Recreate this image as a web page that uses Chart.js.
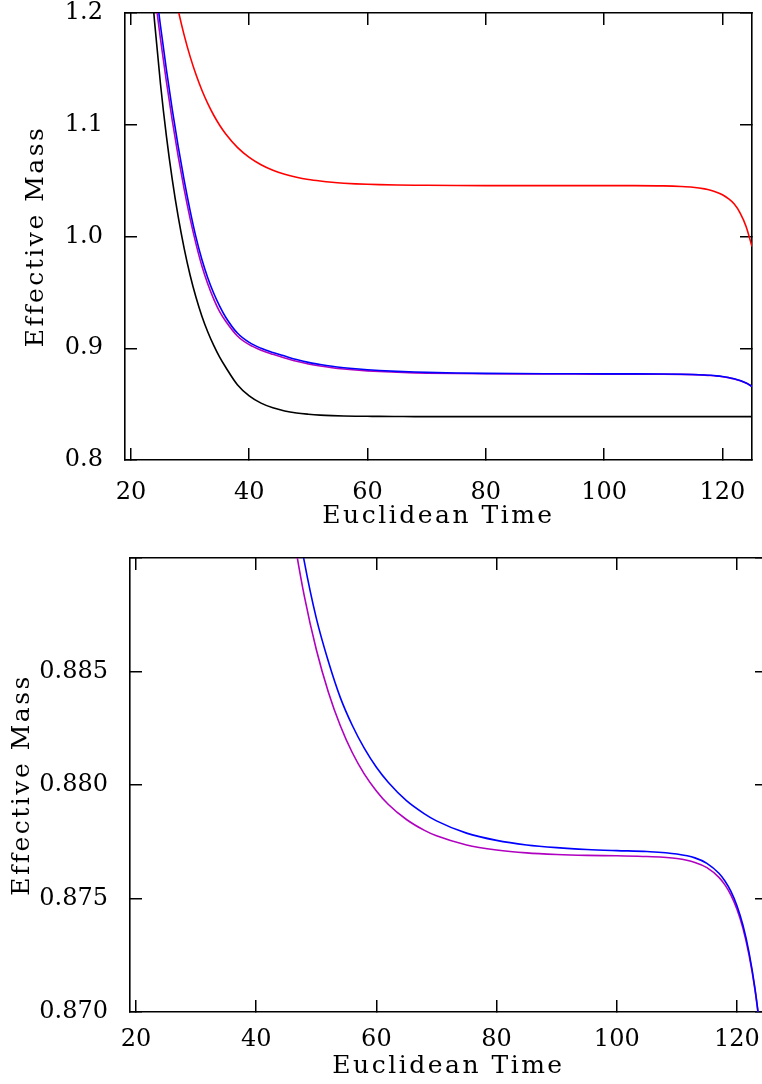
<!DOCTYPE html>
<html>
<head>
<meta charset="utf-8">
<script src="https://cdn.jsdelivr.net/npm/chart.js@4.4.1/dist/chart.umd.min.js"></script>
<style>
  html, body { margin: 0; padding: 0; background: #fff; overflow: hidden; width: 762px; height: 1084px; }
  canvas { position: absolute; left: 0; }
  #topChart { top: -20px; }
  #zoomChart { top: 520px; }
</style>
</head>
<body>
<canvas id="topChart" width="762" height="560"></canvas>
<canvas id="zoomChart" width="780" height="564"></canvas>
<script>
// euclidean time steps shared by every curve
const times = [23, 24, 25, 26, 27, 28, 29, 30, 31, 32, 33, 34, 35, 36, 38, 40, 42, 44, 46, 48,
  50, 52, 54, 56, 58, 60, 62, 65, 68, 70, 75, 80, 85, 90, 95, 100, 105, 110, 113, 115,
  117, 118, 119, 120, 121, 122, 123, 124, 125];

const blackMass = [1.257, 1.192, 1.1365, 1.0899, 1.0507, 1.0175, 0.9894, 0.9656, 0.9456, 0.9287, 0.9145, 0.9025, 0.892, 0.8832, 0.8674, 0.8574, 0.8509, 0.8467, 0.8439, 0.8421,
  0.841, 0.8402, 0.8397, 0.8394, 0.8392, 0.8391, 0.839, 0.8389, 0.8388, 0.8388, 0.8388, 0.8388, 0.8388, 0.8388, 0.8388, 0.8388, 0.8388, 0.8388, 0.8388, 0.8388,
  0.8388, 0.8388, 0.8388, 0.8388, 0.8388, 0.8388, 0.8388, 0.8388, 0.8388];

const redMass = [null, null, null, null, 1.228, 1.2024, 1.1802, 1.1612, 1.1449, 1.1309, 1.1189, 1.1085, 1.0996, 1.092, 1.0798, 1.0708, 1.0642, 1.0593, 1.0557, 1.053,
  1.051, 1.0496, 1.0485, 1.0477, 1.0471, 1.0467, 1.0464, 1.0461, 1.0459, 1.0458, 1.0456, 1.0455, 1.0455, 1.0455, 1.0455, 1.0455, 1.0455, 1.0453, 1.0448, 1.0441,
  1.0426, 1.0414, 1.0397, 1.0373, 1.0339, 1.029, 1.021, 1.009, 0.991];

const blueMass = [1.275, 1.2304, 1.1884, 1.1494, 1.1134, 1.0804, 1.0504, 1.0234, 0.9994, 0.9794, 0.9629, 0.9492, 0.9377, 0.928, 0.9136, 0.9052, 0.9, 0.8962, 0.893, 0.88985,
  0.88735, 0.88545, 0.88385, 0.88262, 0.88161, 0.88078, 0.88011, 0.87931, 0.87873, 0.87842, 0.87788, 0.87756, 0.87736, 0.87724, 0.87716, 0.87711, 0.87707, 0.87696, 0.87679, 0.87655,
  0.87611, 0.87577, 0.87531, 0.87468, 0.87382, 0.87264, 0.87104, 0.86885, 0.86585];

const purpleMass = [1.262, 1.2178, 1.1767, 1.1386, 1.1035, 1.0714, 1.0423, 1.0162, 0.9934, 0.9736, 0.9574, 0.944, 0.9328, 0.9244, 0.911, 0.9032, 0.8983, 0.8946, 0.8913, 0.88833,
  0.88597, 0.8841, 0.88261, 0.88142, 0.88048, 0.87974, 0.87914, 0.87848, 0.878, 0.87776, 0.87736, 0.87714, 0.87701, 0.87694, 0.8769, 0.87688, 0.87685, 0.87676, 0.87659, 0.87636,
  0.87593, 0.8756, 0.87515, 0.87453, 0.87369, 0.87253, 0.87097, 0.86883, 0.86589];

const timeTicks = [20, 40, 60, 80, 100, 120];
const topMassTicks = [0.8, 0.9, 1.0, 1.1, 1.2];
const zoomMassTicks = [0.870, 0.875, 0.880, 0.885, 0.890];

const serif = "'DejaVu Serif', serif";

// the reference titles are set with wide letter spacing
const spacedTitles = {
  id: "spacedTitles",
  beforeDraw(chart) {
    Object.values(chart.scales).forEach(scale => {
      if (scale._spaced) return;
      const drawTitle = scale.drawTitle;
      scale.drawTitle = function () {
        this.ctx.save();
        this.ctx.letterSpacing = "2.5px";
        drawTitle.call(this);
        this.ctx.restore();
      };
      scale._spaced = true;
    });
  }
};

function series(values, color) {
  return {
    data: times.map((t, i) => ({ x: t, y: values[i] })),
    borderColor: color,
    backgroundColor: color,
    borderWidth: 1.6,
    pointRadius: 0,
    fill: false,
    cubicInterpolationMode: "monotone",
    clip: 0
  };
}

function axis(position, min, max, tickValues, opts) {
  const horizontal = position === "top" || position === "bottom";
  const ticks = {
    display: !!opts.labels,
    padding: opts.pad || 0,
    color: "#000",
    font: { family: serif, size: 24 },
    maxRotation: 0,
    autoSkip: false
  };
  if (opts.labels) ticks.callback = opts.labels;

  return {
    type: "linear",
    position: position,
    min: min,
    max: max,
    afterBuildTicks: scale => {
      scale.ticks = tickValues.map(v => ({ value: v }));
    },
    afterFit: scale => {
      // fixed box sizes so the plot frame lands where the reference has it
      if (horizontal) scale.height = opts.size;
      else scale.width = opts.size;
      scale.paddingTop = scale.paddingBottom = scale.paddingLeft = scale.paddingRight = 0;
    },
    grid: { drawOnChartArea: false, tickLength: -12, color: "#000", lineWidth: 1.5 },
    border: { color: "#000", width: 1.6 },
    ticks: ticks,
    title: opts.title
      ? { display: true, text: opts.title, color: "#000", font: { family: serif, size: 25 }, padding: opts.titlePad }
      : { display: false }
  };
}

const baseOptions = {
  responsive: false,
  animation: false,
  devicePixelRatio: 1,
  plugins: { legend: { display: false }, tooltip: { enabled: false } }
};

new Chart(document.getElementById("topChart"), {
  type: "line",
  data: {
    datasets: [
      series(blackMass, "#000000"),
      series(redMass, "#ff0000"),
      series(blueMass, "#0000ff"),
      series(purpleMass, "#b000c0")
    ]
  },
  options: {
    ...baseOptions,
    layout: { padding: { top: 33, right: 10, left: 0, bottom: 0 } },
    scales: {
      x: axis("bottom", 19, 125, timeTicks, {
        size: 80, pad: 30, labels: v => String(v),
        title: "Euclidean Time", titlePad: { top: 0, bottom: 9 }
      }),
      x2: axis("top", 19, 125, timeTicks, { size: 0 }),
      y: axis("left", 0.8, 1.2, topMassTicks, {
        size: 125, pad: 34, labels: v => v.toFixed(1),
        title: "Effective Mass", titlePad: { top: 21, bottom: 0 }
      }),
      y2: axis("right", 0.8, 1.2, topMassTicks, { size: 0 })
    }
  },
  plugins: [spacedTitles]
});

new Chart(document.getElementById("zoomChart"), {
  type: "line",
  data: {
    datasets: [
      series(blueMass, "#0000ff"),
      series(purpleMass, "#b000c0")
    ]
  },
  options: {
    ...baseOptions,
    layout: { padding: { top: 38, right: 13, left: 0, bottom: 0 } },
    scales: {
      x: axis("bottom", 19, 125, timeTicks, {
        size: 72, pad: 25, labels: v => String(v),
        title: "Euclidean Time", titlePad: { top: 0, bottom: 3 }
      }),
      x2: axis("top", 19, 125, timeTicks, { size: 0 }),
      y: axis("left", 0.87, 0.89, zoomMassTicks, {
        size: 130, pad: 34, labels: v => (v < 0.8899 ? v.toFixed(3) : ""),
        title: "Effective Mass", titlePad: { top: 7, bottom: 0 }
      }),
      y2: axis("right", 0.87, 0.89, zoomMassTicks, { size: 0 })
    }
  },
  plugins: [spacedTitles]
});
</script>
</body>
</html>
